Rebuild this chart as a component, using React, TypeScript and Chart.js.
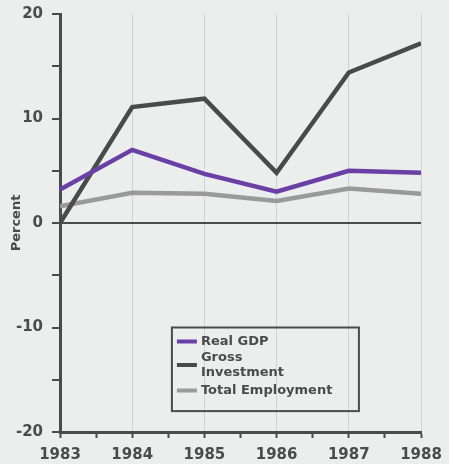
import React, { useEffect, useRef } from "react";
import { Chart, registerables } from "chart.js";

Chart.register(...registerables);

const years = [1983, 1984, 1985, 1986, 1987, 1988];
const realGDP = [3.2, 7.0, 4.7, 3.0, 5.0, 4.8];
const grossInvestment = [0.0, 11.1, 11.9, 4.8, 14.4, 17.2];
const totalEmployment = [1.6, 2.9, 2.8, 2.1, 3.3, 2.8];
const seriesLabels = ["Real GDP", "Gross\nInvestment", "Total Employment"];
const yTickLabels = [-20, -10, 0, 10, 20];

const DARK = "#4b4b4b";
const FONT = "'DejaVu Sans', sans-serif";

const bgPlugin = {
  id: "bg",
  beforeDraw(chart: any) {
    const { ctx, width, height } = chart;
    ctx.save();
    ctx.fillStyle = "#eceeed";
    ctx.fillRect(0, 0, width, height);
    ctx.restore();
  },
};

const legendPlugin = {
  id: "boxLegend",
  afterDraw(chart: any) {
    const { ctx } = chart;
    const xs = chart.scales.x;
    const ys = chart.scales.y;
    const left = xs.getPixelForValue(1984.55);
    const right = xs.getPixelForValue(1987.14);
    const top = ys.getPixelForValue(-10);
    const bottom = ys.getPixelForValue(-18);
    ctx.save();
    ctx.strokeStyle = DARK;
    ctx.lineWidth = 2;
    ctx.strokeRect(left, top, right - left, bottom - top);
    ctx.font = `bold 13px ${FONT}`;
    ctx.textBaseline = "middle";
    ctx.fillStyle = DARK;
    const rows = [
      { lines: [seriesLabels[0]], y: [14] },
      { lines: seriesLabels[1].split("\n"), y: [30, 45] },
      { lines: [seriesLabels[2]], y: [63] },
    ];
    rows.forEach((r, i) => {
      const ds = chart.data.datasets[i];
      const midY = top + (r.y[0] + r.y[r.y.length - 1]) / 2;
      ctx.strokeStyle = ds.borderColor;
      ctx.lineWidth = 4;
      ctx.beginPath();
      ctx.moveTo(left + 5, midY);
      ctx.lineTo(left + 25, midY);
      ctx.stroke();
      ctx.fillStyle = DARK;
      r.lines.forEach((t: string, j: number) => {
        ctx.fillText(t, left + 29, top + r.y[j]);
      });
    });
    ctx.restore();
  },
};

export default function App() {
  const ref = useRef<HTMLCanvasElement>(null);
  useEffect(() => {
    document.body.style.margin = "0";
    const mk = (arr: number[]) => years.map((x, i) => ({ x, y: arr[i] }));
    const chart = new Chart(ref.current!, {
      type: "line",
      data: {
        datasets: [
          { label: seriesLabels[0], data: mk(realGDP), borderColor: "#6a3fa6", borderWidth: 4.5, pointRadius: 0, tension: 0 },
          { label: seriesLabels[1], data: mk(grossInvestment), borderColor: "#4a4a4a", borderWidth: 4.5, pointRadius: 0, tension: 0 },
          { label: seriesLabels[2], data: mk(totalEmployment), borderColor: "#9a9a9a", borderWidth: 4.5, pointRadius: 0, tension: 0 },
        ],
      },
      options: {
        animation: false,
        responsive: false,
        maintainAspectRatio: false,
        layout: { padding: { top: 14, right: 28, left: 0, bottom: 0 } },
        plugins: { legend: { display: false }, tooltip: { enabled: false } },
        scales: {
          x: {
            type: "linear",
            min: 1983,
            max: 1988,
            ticks: {
              stepSize: 0.5,
              autoSkip: false,
              maxRotation: 0,
              padding: 10,
              color: DARK,
              font: { family: FONT, size: 15, weight: "bold", lineHeight: 1 },
              callback: (v: any) => (Number.isInteger(v) ? String(v) : ""),
            },
            grid: {
              drawOnChartArea: true,
              color: (c: any) => (c.tick && Number.isInteger(c.tick.value) ? "#cfd3d3" : "rgba(0,0,0,0)"),
              tickColor: DARK,
              tickLength: 6,
              lineWidth: 1,
              tickWidth: 2,
            },
            border: { color: DARK, width: 3 },
            afterFit: (s: any) => {
              s.height = 32;
              s.paddingLeft = 0;
              s.paddingRight = 0;
            },
          },
          y: {
            min: -20,
            max: 20,
            ticks: {
              stepSize: 5,
              padding: 9,
              color: DARK,
              font: { family: FONT, size: 15, weight: "bold", lineHeight: 1 },
              callback: (v: any) => (yTickLabels.includes(v) ? String(v) : ""),
            },
            grid: {
              color: (c: any) => (c.tick && c.tick.value === 0 ? DARK : "rgba(0,0,0,0)"),
              lineWidth: 2,
              tickColor: DARK,
              tickLength: 8,
              tickWidth: 2,
            },
            border: { color: DARK, width: 3 },
            title: {
              display: true,
              text: "Percent",
              color: DARK,
              padding: { top: 9, bottom: 0 },
              font: { family: FONT, size: 13, weight: "bold" },
            },
            afterFit: (s: any) => {
              s.width = 60;
              s.paddingTop = 0;
              s.paddingBottom = 0;
            },
          },
        },
      },
      plugins: [bgPlugin, legendPlugin],
    });
    return () => chart.destroy();
  }, []);
  return (
    <div style={{ width: 449, height: 464 }}>
      <canvas ref={ref} width={449} height={464} style={{ display: "block" }} />
    </div>
  );
}
